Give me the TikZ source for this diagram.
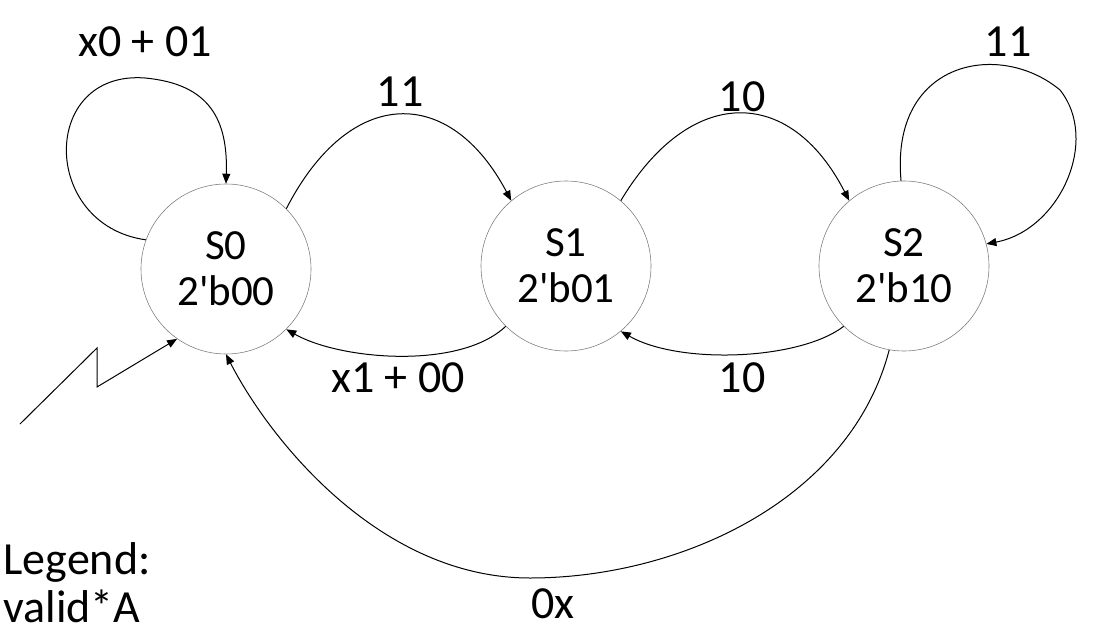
\documentclass[tikz,border=0pt]{standalone}
\usepackage{fontspec}
\setmainfont{Carlito}
\usetikzlibrary{arrows.meta}
\begin{document}
\begin{tikzpicture}[x=1pt,y=-1pt,
  st/.style={circle,draw=gray,line width=0.6pt,minimum size=170pt,inner sep=0pt,align=center,font=\fontsize{43}{46}\selectfont},
  lbl/.style={font=\fontsize{46}{48}\selectfont},
  tr/.style={line width=1pt,-{Triangle[length=10pt,width=8pt]}}]
\useasboundingbox (0,0) rectangle (1116,634);
\node[st] (s0) at (226,269) {S0\\2\textquotesingle b00};
\node[st] (s1) at (566,266) {S1\\2\textquotesingle b01};
\node[st] (s2) at (904,266) {S2\\2\textquotesingle b10};
\draw[tr] (s0.160) .. controls (40,225) and (40,70) .. (145,78) .. controls (210,84) and (228,120) .. (s0.90);
\node[lbl] (l1) at (145,42) {x0 + 01};
\draw[tr] (s0.45) .. controls (350,85) and (450,85) .. (s1.130);
\node[lbl] (l2) at (400,92) {11};
\draw[tr] (s1.50) .. controls (690,85) and (790,85) .. (s2.130);
\node[lbl] (l3) at (742,97) {10};
\draw[tr] (s2.92) .. controls (890,60) and (1000,40) .. (1060,90) .. controls (1100,140) and (1060,230) .. (s2.15);
\node[lbl] (l4) at (1008,42) {11};
\draw[tr] (s2.-135) .. controls (800,360) and (680,365) .. (s1.-50);
\node[lbl] (l5) at (742,378) {10};
\draw[tr] (s1.-135) .. controls (460,370) and (340,360) .. (s0.-45);
\node[lbl] (l6) at (398,378) {x1 + 00};
\draw[tr] (s2.-100) .. controls (850,500) and (680,578) .. (530,578) .. controls (380,578) and (270,440) .. (s0.-90);
\node[lbl] (l7) at (553,604) {0x};
\coordinate (r0) at (20,424);
\coordinate (r1) at (97,348);
\coordinate (r2) at (97,387);
\draw[tr] (r0) -- (r1) -- (r2) -- (s0.-125);
\node[lbl,anchor=west,align=left] (leg) at (0,583) {Legend:\\valid*A};
\end{tikzpicture}
\end{document}
